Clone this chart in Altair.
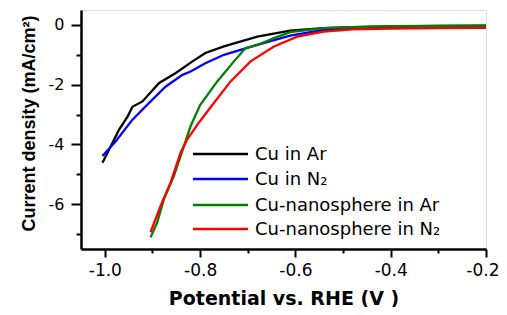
import altair as alt
import pandas as pd

# ---- data ----
series_names = ["Cu in Ar", "Cu in N₂", "Cu-nanosphere in Ar", "Cu-nanosphere in N₂"]
series_colors = ["#000000", "#0000ff", "#008000", "#ff0000"]

cu_ar_x = [-1.005, -0.991, -0.970, -0.952, -0.942, -0.921, -0.886, -0.851, -0.816, -0.789,
           -0.750, -0.680, -0.611, -0.541, -0.48, -0.40, -0.30, -0.20]
cu_ar_y = [-4.61, -4.17, -3.50, -3.06, -2.74, -2.56, -1.94, -1.61, -1.22, -0.94,
           -0.72, -0.39, -0.19, -0.11, -0.07, -0.05, -0.03, -0.02]

cu_n2_x = [-1.005, -0.977, -0.942, -0.907, -0.872, -0.837, -0.820, -0.789, -0.750, -0.680,
           -0.611, -0.541, -0.48, -0.40, -0.30, -0.20]
cu_n2_y = [-4.39, -3.89, -3.17, -2.61, -2.06, -1.67, -1.56, -1.28, -1.00, -0.67,
           -0.36, -0.17, -0.11, -0.08, -0.07, -0.06]

nano_ar_x = [-0.904, -0.890, -0.876, -0.855, -0.834, -0.820, -0.800, -0.764, -0.729, -0.705,
             -0.680, -0.645, -0.611, -0.541, -0.48, -0.40, -0.30, -0.20]
nano_ar_y = [-7.11, -6.61, -5.83, -5.06, -4.06, -3.39, -2.68, -1.89, -1.22, -0.78,
             -0.67, -0.44, -0.24, -0.11, -0.07, -0.04, -0.03, -0.02]

nano_n2_x = [-0.904, -0.883, -0.862, -0.841, -0.827, -0.803, -0.774, -0.736, -0.694, -0.645,
             -0.596, -0.541, -0.48, -0.40, -0.30, -0.20]
nano_n2_y = [-6.94, -6.06, -5.28, -4.28, -3.83, -3.28, -2.67, -1.89, -1.22, -0.72,
             -0.39, -0.22, -0.15, -0.12, -0.11, -0.10]

x_ticks = [-1.0, -0.9, -0.8, -0.7, -0.6, -0.5, -0.4, -0.3, -0.2]
y_ticks = [0, -1, -2, -3, -4, -5, -6, -7]

# ---- build table ----
xs = [cu_ar_x, cu_n2_x, nano_ar_x, nano_n2_x]
ys = [cu_ar_y, cu_n2_y, nano_ar_y, nano_n2_y]
rows = []
for name, sx, sy in zip(series_names, xs, ys):
    for i, (a, b) in enumerate(zip(sx, sy)):
        rows.append({"series": name, "V": a, "J": b, "order": i})
df = pd.DataFrame(rows)

color_scale = alt.Scale(domain=series_names, range=series_colors)

x_axis = alt.Axis(
    values=x_ticks,
    labelExpr="abs(round(datum.value*10)) % 2 == 0 ? (datum.value < 0 ? '-' : '') + format(abs(datum.value), '.1f') : ''",
    tickSize={"condition": {"test": "abs(round(datum.value*10)) % 2 == 0", "value": 8}, "value": 4},
    grid=False,
    title="Potential vs. RHE (V )",
    titleFont="DejaVu Sans", titleFontSize=19, titleFontWeight="bold", titleColor="black",
    titlePadding=11,
    labelFont="DejaVu Sans", labelFontSize=17, labelColor="black", labelPadding=5,
    tickColor="black", tickWidth=2, domainColor="black", domainWidth=2.5,
    labelFlush=True, labelFlushOffset=13, labelOverlap=False,
)
y_axis = alt.Axis(
    values=y_ticks,
    labelExpr="datum.value % 2 == 0 ? (datum.value < 0 ? '-' : '') + format(abs(datum.value), 'd') : ''",
    tickSize={"condition": {"test": "datum.value % 2 == 0", "value": 10}, "value": 5},
    grid=False,
    title="Current density (mA/cm²)",
    titleFont="Liberation Sans", titleFontSize=18, titleFontWeight="bold", titleColor="black",
    titlePadding=10, titleY=113,
    labelFont="DejaVu Sans", labelFontSize=16, labelColor="black", labelPadding=7,
    tickColor="black", tickWidth=2, domainColor="black", domainWidth=2.5,
    labelFlush=False, labelOverlap=False,
)

lines = alt.Chart(df).mark_line(strokeWidth=2.3, clip=True).encode(
    x=alt.X("V:Q", scale=alt.Scale(domain=[-1.05, -0.2], nice=False, zero=False), axis=x_axis),
    y=alt.Y("J:Q", scale=alt.Scale(domain=[-7.5, 0.5], nice=False, zero=False), axis=y_axis),
    color=alt.Color("series:N", scale=color_scale, legend=None),
    order="order:Q",
    detail="series:N",
)

# ---- manual legend ----
leg_rows_y = [144, 169, 195, 219]
layers = [lines]
for name, col, ly in zip(series_names, series_colors, leg_rows_y):
    ldf = pd.DataFrame({"label": [name]})
    layers.append(
        alt.Chart(ldf).mark_rule(color=col, strokeWidth=2.3).encode(
            x=alt.value(112), x2=alt.value(167), y=alt.value(ly)
        )
    )
    layers.append(
        alt.Chart(ldf).mark_text(align="left", baseline="middle", font="DejaVu Sans",
                                 fontSize=18, color="black").encode(
            x=alt.value(174), y=alt.value(ly + 1), text="label:N"
        )
    )

chart = alt.layer(*layers).properties(
    width=405, height=239,
    autosize=alt.AutoSizeParams(type="none"),
    padding={"left": 73, "top": 2, "right": 13, "bottom": 58},
).configure_view(stroke="black", strokeWidth=2.5).configure(background="white")

chart.save("out.html", embed_options={"renderer": "svg", "actions": False})
